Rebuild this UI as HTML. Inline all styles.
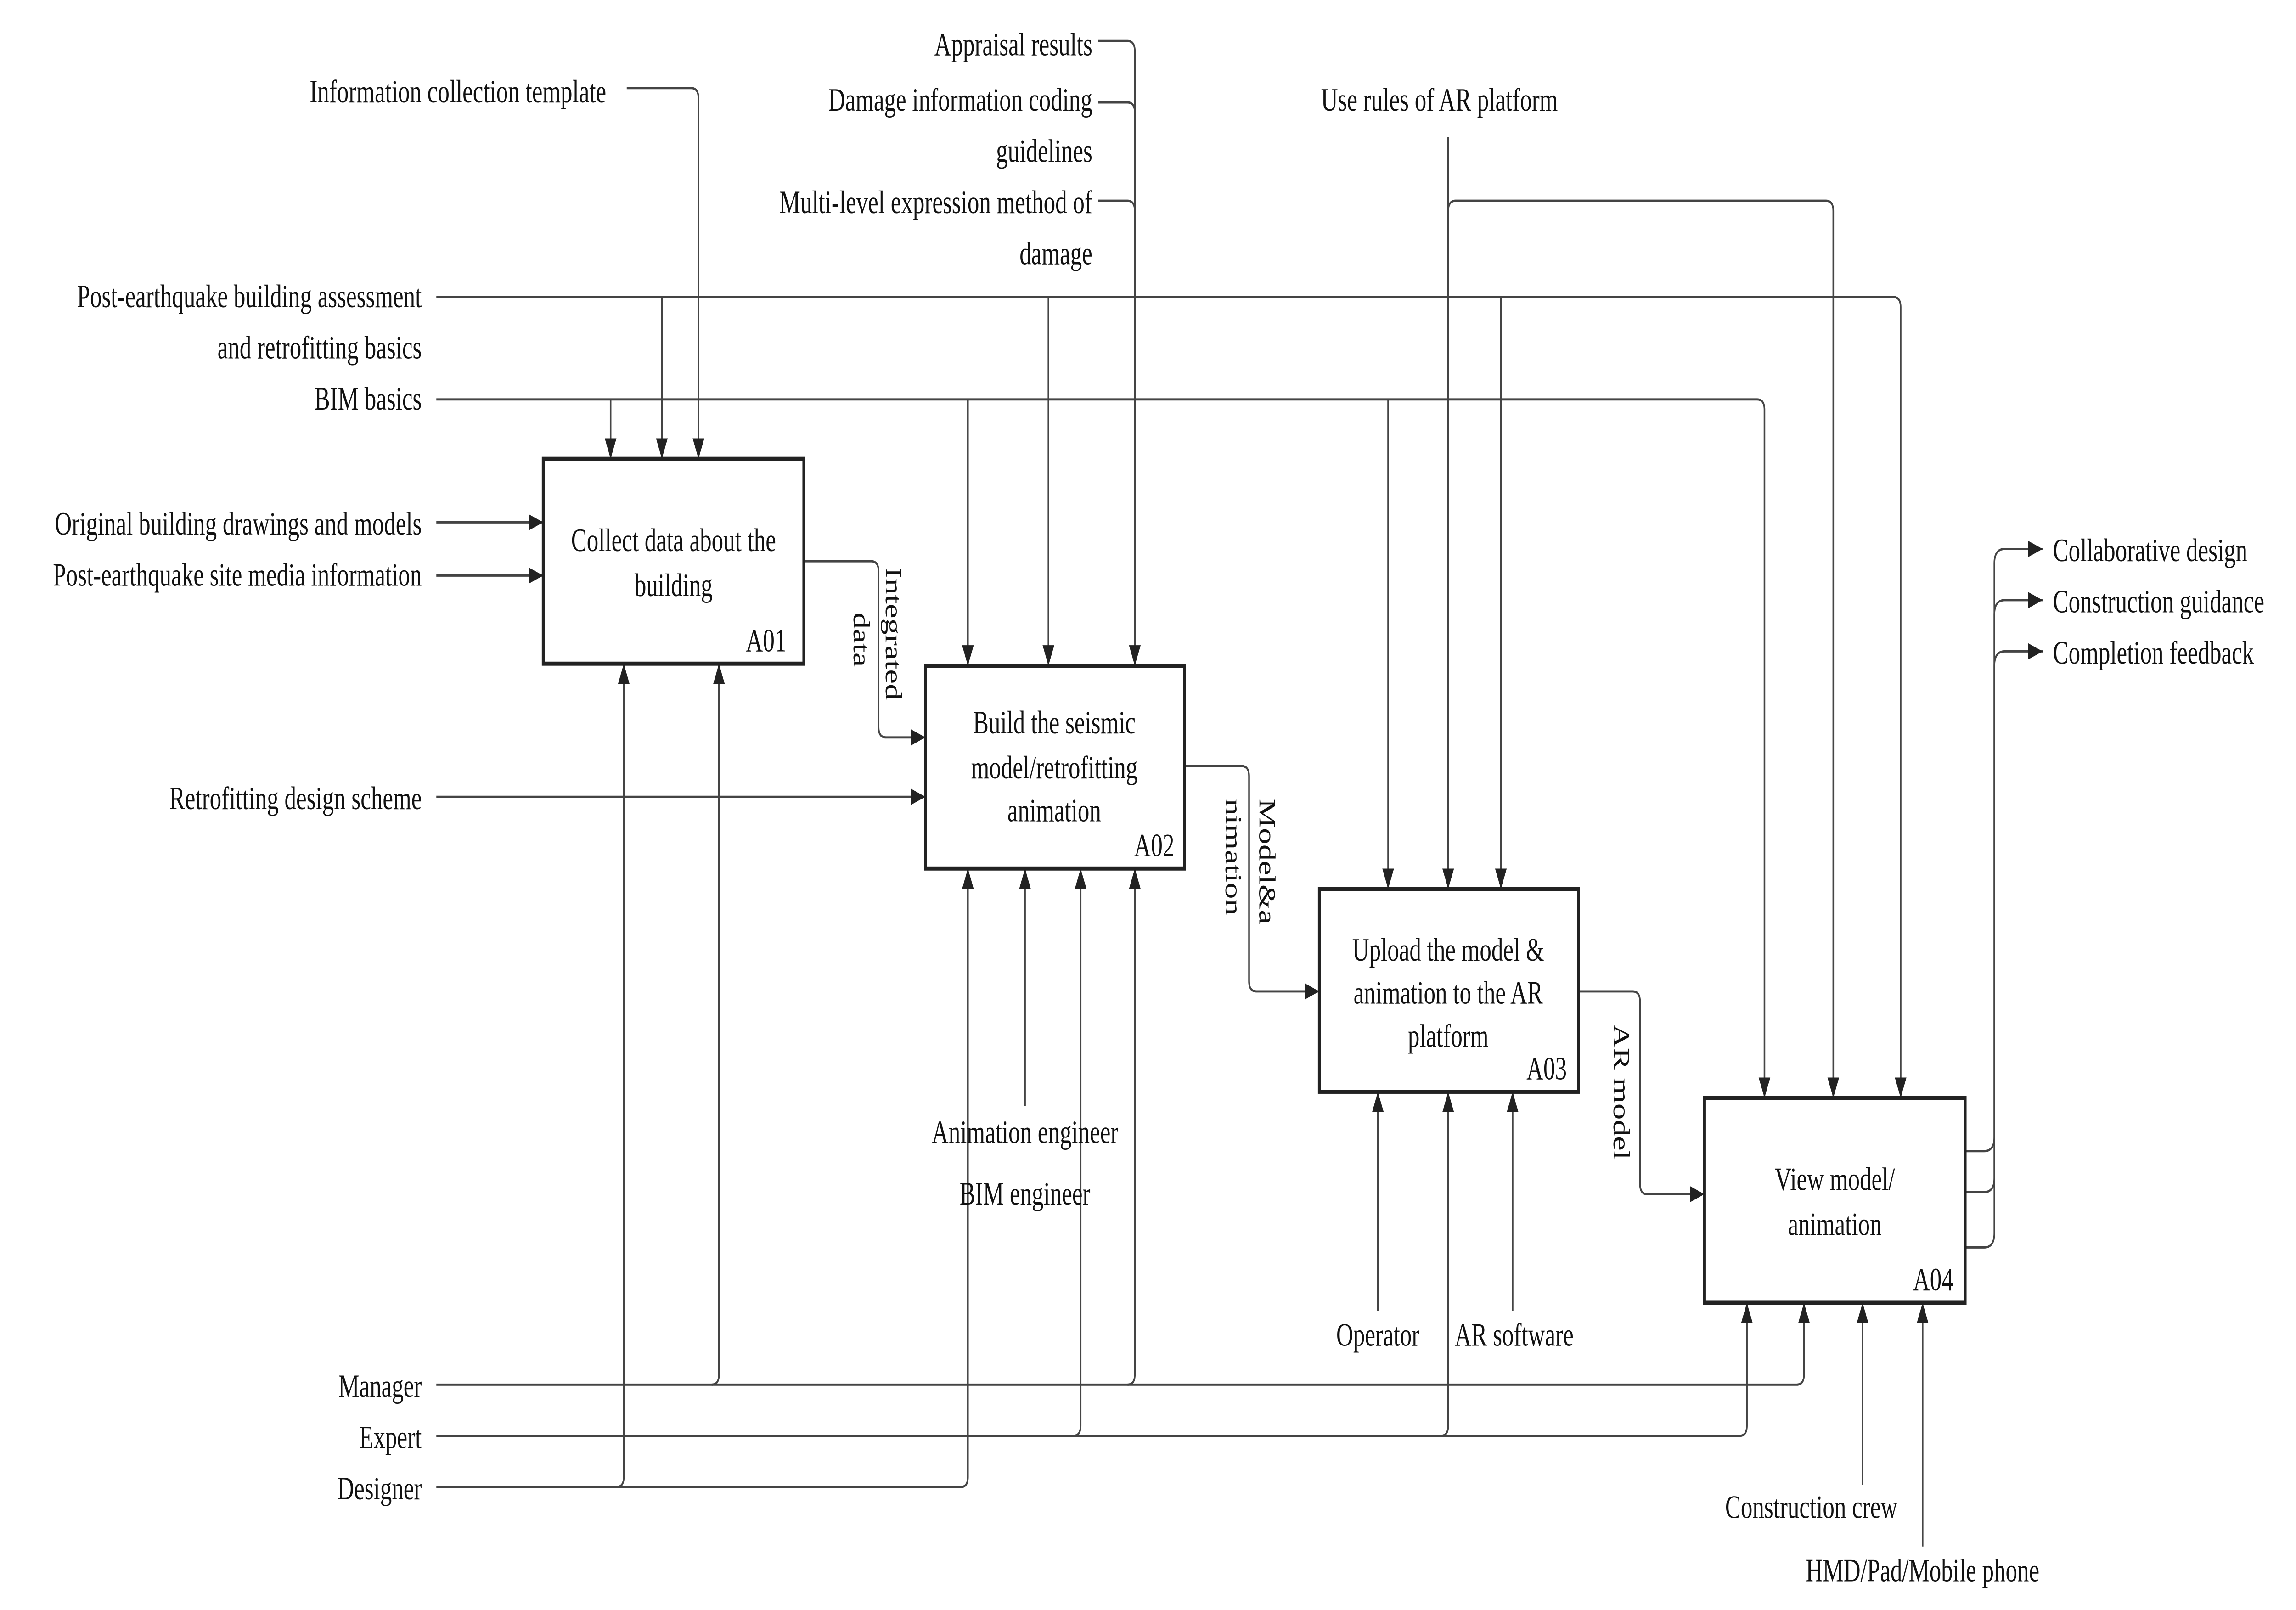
<!DOCTYPE html>
<html><head><meta charset="utf-8"><style>
html,body{margin:0;padding:0;background:#fff;width:100%;height:100%;overflow:hidden;}
svg{display:block;position:absolute;left:0;top:0;width:100vw;height:100vh;}
text{font-family:"Liberation Serif",serif;font-size:16px;fill:#111;}
</style></head><body>
<svg viewBox="0 0 1568 786" preserveAspectRatio="none" xmlns="http://www.w3.org/2000/svg">
<defs>
<marker id="a" markerUnits="userSpaceOnUse" markerWidth="10" markerHeight="10" viewBox="0 0 10 10" refX="10" refY="5" orient="auto"><path d="M0,1 L10,5 L0,9 z" fill="#222"/></marker>
</defs>
<g fill="none" stroke="#444" stroke-width="1.1">
<path d="M298,145 H1293 Q1298,145 1298,150 V536" marker-end="url(#a)"/>
<path d="M452,145 V224" marker-end="url(#a)"/>
<path d="M716,145 V325" marker-end="url(#a)"/>
<path d="M1025,145 V434" marker-end="url(#a)"/>
<path d="M298,195 H1200 Q1205,195 1205,200 V536" marker-end="url(#a)"/>
<path d="M417,195 V224" marker-end="url(#a)"/>
<path d="M661,195 V325" marker-end="url(#a)"/>
<path d="M948,195 V434" marker-end="url(#a)"/>
<path d="M428,43 H472 Q477,43 477,48 V224" marker-end="url(#a)"/>
<path d="M750,20 H770 Q775,20 775,25 V325" marker-end="url(#a)"/>
<path d="M750,50 H770 Q775,50 775,55"/>
<path d="M750,98 H770 Q775,98 775,103"/>
<path d="M989,67 V434" marker-end="url(#a)"/>
<path d="M989,103 Q989,98 994,98 H1247 Q1252,98 1252,103 V536" marker-end="url(#a)"/>
<path d="M298,255 H371" marker-end="url(#a)"/>
<path d="M298,281 H371" marker-end="url(#a)"/>
<path d="M298,389 H632" marker-end="url(#a)"/>
<path d="M549,274 H595 Q600,274 600,279 V355 Q600,360 605,360 H632" marker-end="url(#a)"/>
<path d="M809,374 H848 Q853,374 853,379 V479 Q853,484 858,484 H901" marker-end="url(#a)"/>
<path d="M1078,484 H1115 Q1120,484 1120,489 V578 Q1120,583 1125,583 H1164" marker-end="url(#a)"/>
<path d="M298,676 H1227 Q1232,676 1232,671 V636" marker-end="url(#a)"/>
<path d="M486,676 Q491,676 491,671 V324" marker-end="url(#a)"/>
<path d="M770,676 Q775,676 775,671 V424" marker-end="url(#a)"/>
<path d="M298,701 H1188 Q1193,701 1193,696 V636" marker-end="url(#a)"/>
<path d="M733,701 Q738,701 738,696 V424" marker-end="url(#a)"/>
<path d="M984,701 Q989,701 989,696 V533" marker-end="url(#a)"/>
<path d="M298,726 H656 Q661,726 661,721 V424" marker-end="url(#a)"/>
<path d="M421,726 Q426,726 426,721 V324" marker-end="url(#a)"/>
<path d="M700,540 V424" marker-end="url(#a)"/>
<path d="M941,640 V533" marker-end="url(#a)"/>
<path d="M1033,640 V533" marker-end="url(#a)"/>
<path d="M1272,725 V636" marker-end="url(#a)"/>
<path d="M1313,755 V636" marker-end="url(#a)"/>
<path d="M1342,562 H1355 Q1362,562 1362,555 V275 Q1362,268 1369,268 H1395" marker-end="url(#a)"/>
<path d="M1342,582 H1355 Q1362,582 1362,575 V300 Q1362,293 1369,293 H1395" marker-end="url(#a)"/>
<path d="M1342,609 H1355 Q1362,609 1362,602 V325 Q1362,318 1369,318 H1395" marker-end="url(#a)"/>
</g>
<g fill="#fff" stroke="#222" stroke-width="2">
<rect x="371" y="224" width="178" height="100"/>
<rect x="632" y="325" width="177" height="99"/>
<rect x="901" y="434" width="177" height="99"/>
<rect x="1164" y="536" width="178" height="100"/>
</g>
<g text-anchor="middle">
<text x="460" y="269">Collect data  about the</text>
<text x="460" y="291">building</text>
<text x="720" y="358">Build the seismic</text>
<text x="720" y="380">model/retrofitting</text>
<text x="720" y="401">animation</text>
<text x="989" y="469">Upload the model &amp;</text>
<text x="989" y="490">animation to the AR</text>
<text x="989" y="511">platform</text>
<text x="1253" y="581">View model/</text>
<text x="1253" y="603">animation</text>
</g>
<g text-anchor="end">
<text x="537" y="318">A01</text>
<text x="802" y="418">A02</text>
<text x="1070" y="527">A03</text>
<text x="1334" y="630">A04</text>
<text x="288" y="150">Post-earthquake building assessment</text>
<text x="288" y="175">and retrofitting basics</text>
<text x="288" y="200">BIM basics</text>
<text x="288" y="261">Original building drawings and models</text>
<text x="288" y="286">Post-earthquake site media information</text>
<text x="288" y="395">Retrofitting design scheme</text>
<text x="414" y="50">Information collection template</text>
<text x="746" y="27">Appraisal results</text>
<text x="746" y="54">Damage information coding</text>
<text x="746" y="79">guidelines</text>
<text x="746" y="104">Multi-level expression method of</text>
<text x="746" y="129">damage</text>
<text x="288" y="682">Manager</text>
<text x="288" y="707">Expert</text>
<text x="288" y="732">Designer</text>
</g>
<g text-anchor="middle">
<text x="983" y="54">Use rules of AR platform</text>
<text x="700" y="558">Animation engineer</text>
<text x="700" y="588">BIM engineer</text>
<text x="941" y="657">Operator</text>
<text x="1034" y="657">AR software</text>
<text x="1237" y="741">Construction crew</text>
<text x="1313" y="772">HMD/Pad/Mobile phone</text>
</g>
<text x="1402" y="274">Collaborative design</text>
<text x="1402" y="299">Construction guidance</text>
<text x="1402" y="324">Completion feedback</text>
<text transform="translate(605,277) rotate(90)">Integrated</text>
<text transform="translate(583,299) rotate(90)">data</text>
<text transform="translate(860,390) rotate(90)">Model&amp;a</text>
<text transform="translate(837,390) rotate(90)">nimation</text>
<text transform="translate(1102,500) rotate(90)">AR model</text>
</svg>
</body></html>
